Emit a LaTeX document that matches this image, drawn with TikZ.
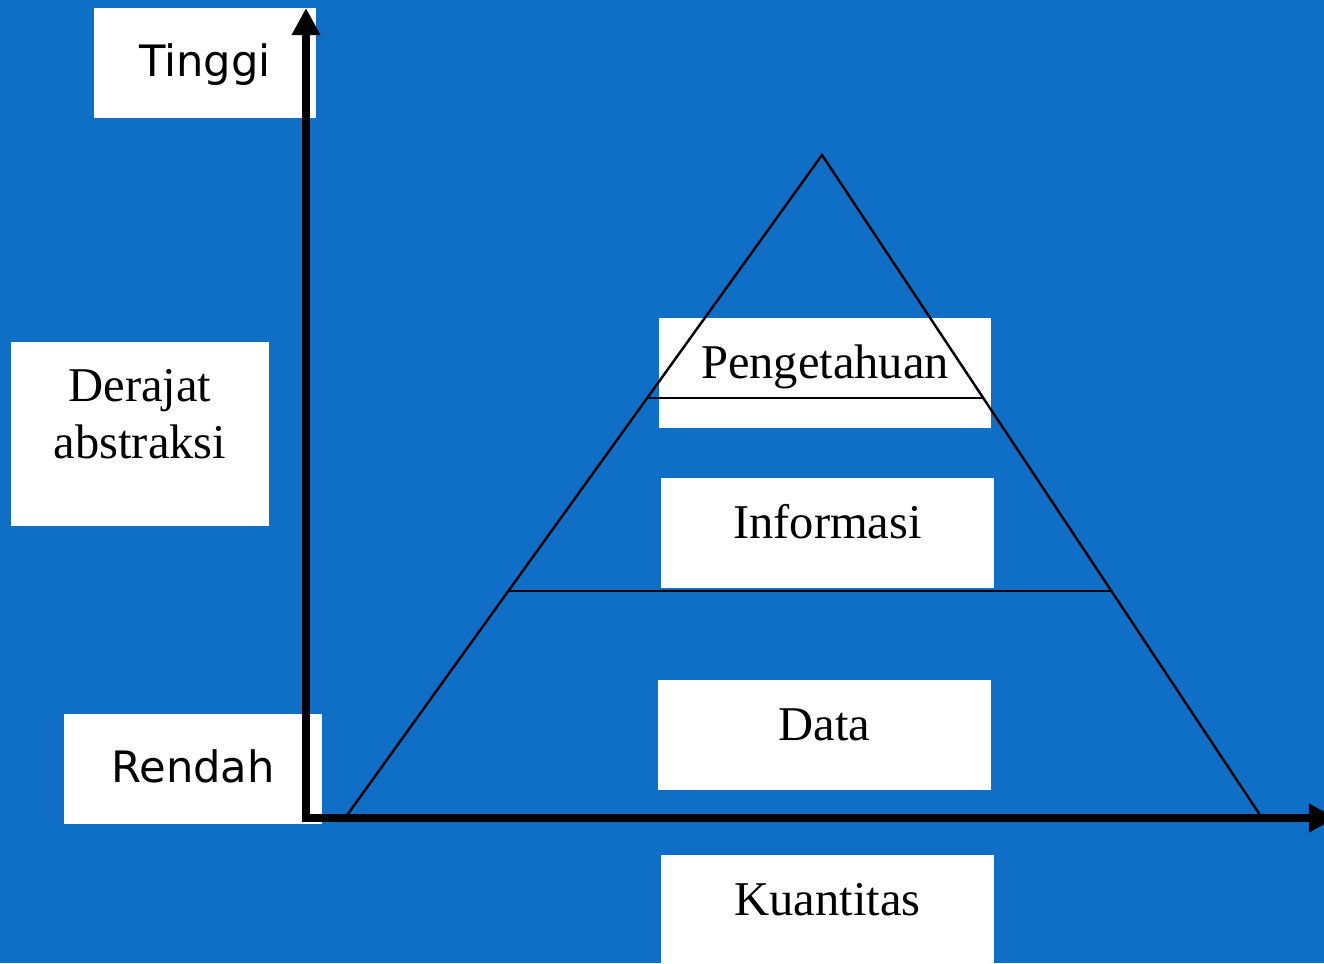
\documentclass[tikz,border=0pt]{standalone}
\usepackage{fontspec}
\setmainfont{Liberation Serif}
\newfontfamily\handfont{DejaVu Sans}
\usetikzlibrary{calc, arrows.meta}
\definecolor{slideblue}{RGB}{15,111,198}

\begin{document}
\begin{tikzpicture}[x=0.01cm, y=-0.01cm,
    box/.style={fill=white, inner sep=0pt, text height=9pt, text depth=6pt,
      font=\fontsize{13.8}{16.2}\selectfont},
    layer/.style={box, minimum width=3.32cm, minimum height=1.1cm},
    endbox/.style={fill=white, inner sep=0pt, text height=10pt, text depth=2.6pt,
      minimum height=1.1cm, font=\handfont\fontsize{12.3}{14}\selectfont},
    level/.style={line width=0.7pt},
    axis/.style={line width=2.4pt,
      {Triangle[length=0.27cm, width=0.27cm]}-{Triangle[length=0.27cm, width=0.27cm]}}]
      \fill[slideblue] (0,0) rectangle (1324,963);
      \useasboundingbox (0,0) rectangle (1324,963);
      \clip (0,0) rectangle (1324,963);

      % labels of the axes
      \node[endbox, minimum width=2.22cm] (tinggi) at (205,63) {Tinggi};
      \node[box, align=center, text height=28pt, text depth=14.3pt, minimum width=2.58cm,
        minimum height=1.84cm] (derajat) at (140,434) {Derajat\\abstraksi};
      \node[endbox, minimum width=2.58cm] (rendah) at (193,769) {Rendah};
      \node[layer] (kuantitas) at (827.5,910) {Kuantitas};

      % levels of the pyramid
      \node[layer] (pengetahuan) at (825,373) {Pengetahuan};
      \node[layer] (informasi) at (827.5,533) {Informasi};
      \node[layer] (data) at (824.5,735) {Data};

      \coordinate (apex) at (822,155);
      \coordinate (baseL) at (345,818);
      \coordinate (baseR) at (1262,818);
      \draw[level] (baseL) -- (apex) -- (baseR);
      \draw[level] ($(apex)!0.3665!(baseL)$) -- ($(apex)!0.3665!(baseR)$);
      \draw[level] ($(apex)!0.6576!(baseL)$) -- ($(apex)!0.6576!(baseR)$);

      \coordinate (ytop) at (306,8);
      \coordinate (origin) at (306,818);
      \coordinate (xend) at (1336,818);
      \draw[axis] (ytop) -- (origin) -- (xend);
\end{tikzpicture}
\end{document}
